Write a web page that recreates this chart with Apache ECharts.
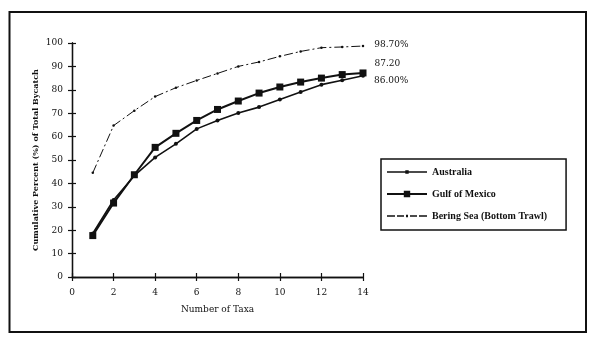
<!DOCTYPE html>
<html>
<head>
<meta charset="utf-8">
<script src="https://cdn.jsdelivr.net/npm/echarts@6/dist/echarts.min.js"></script>
<style>
  html, body { margin: 0; padding: 0; background: #ffffff; }
  #chart { width: 600px; height: 346px; }
</style>
</head>
<body>
<div id="chart"></div>
<script>
// Number of taxa (x) and cumulative percent of total bycatch per fishery
const taxa = [1, 2, 3, 4, 5, 6, 7, 8, 9, 10, 11, 12, 13, 14];
const australia = [18.6, 32.9, 43.3, 51.1, 56.9, 63.3, 66.9, 70.1, 72.6, 75.9, 79.1, 82.2, 84.1, 86.0];
const gulfOfMexico = [17.7, 31.6, 43.7, 55.4, 61.4, 66.9, 71.6, 75.2, 78.6, 81.2, 83.3, 85.0, 86.5, 87.2];
const beringSea = [44.5, 64.7, 71.1, 77.1, 80.9, 84.0, 87.0, 90.0, 91.9, 94.3, 96.4, 98.0, 98.3, 98.7];
const seriesNames = ['Australia', 'Gulf of Mexico', 'Bering Sea (Bottom Trawl)'];
const endSuffix = ['%', '', '%'];
const xTicks = [0, 2, 4, 6, 8, 10, 12, 14];
const yTicks = [0, 10, 20, 30, 40, 50, 60, 70, 80, 90, 100];

const FONT = '"DejaVu Serif", "Liberation Serif", serif';
const LEGEND_FONT = '"Liberation Serif", "DejaVu Serif", serif';
const chart = echarts.init(document.getElementById('chart'), null, { renderer: 'canvas' });

function pairs(vals) {
  return taxa.map((t, i) => [t, vals[i]]);
}

// Legend keys: a 40x8 line sample with the series marker in the middle.
// Tiny corner specks pin the path box to the full 40x8 key area.
const KEY_FRAME = 'M0,0 L0.01,0 L0,0.01 Z M40,8 L39.99,8 L40,7.99 Z ';
const legendIcons = [
  'path://' + KEY_FRAME + 'M0,3.2 L40,3.2 L40,4.8 L0,4.8 Z M18.3,2.3 L21.7,2.3 L21.7,5.7 L18.3,5.7 Z',
  'path://' + KEY_FRAME + 'M0,3.1 L40,3.1 L40,4.9 L0,4.9 Z M16.8,0.8 L23.2,0.8 L23.2,7.2 L16.8,7.2 Z',
  'path://' + KEY_FRAME + 'M0,3.3 L8,3.3 L8,4.7 L0,4.7 Z M10,3.3 L17,3.3 L17,4.7 L10,4.7 Z ' +
    'M19,2.8 L21,2.8 L21,5.2 L19,5.2 Z M23,3.3 L30,3.3 L30,4.7 L23,4.7 Z M32,3.3 L40,3.3 L40,4.7 L32,4.7 Z'
];

// Label only the final point with its value
function endLabel(idx, offset) {
  return {
    show: true,
    position: 'right',
    offset: offset,
    fontFamily: FONT,
    fontSize: 9,
    color: '#111',
    formatter: p => (p.dataIndex === taxa.length - 1 ? p.value[1].toFixed(2) + endSuffix[idx] : '')
  };
}

const axisBase = {
  type: 'value',
  axisLine: { show: true, lineStyle: { color: '#111', width: 1.3 } },
  splitLine: { show: false },
  axisLabel: { show: false },
  axisTick: { show: true, length: 4, lineStyle: { color: '#111', width: 1.2 } }
};

const option = {
  backgroundColor: '#ffffff',
  animation: false,
  grid: { left: 72, right: 237, top: 43, bottom: 69, containLabel: false },
  xAxis: [
    Object.assign({}, axisBase, {
      min: 0, max: 14, interval: 2,
      name: 'Number of Taxa',
      nameLocation: 'middle',
      nameGap: 28,
      nameTextStyle: { fontFamily: FONT, fontSize: 9, color: '#111' },
      axisLabel: {
        show: true, margin: 11, fontFamily: FONT, fontSize: 9, color: '#111',
        formatter: v => (xTicks.indexOf(v) >= 0 ? String(v) : '')
      }
    }),
    // second copy of the axis carries the inner half of the crossing ticks
    Object.assign({}, axisBase, {
      min: 0, max: 14, interval: 2, position: 'bottom',
      axisTick: { show: true, inside: true, length: 4, lineStyle: { color: '#111', width: 1.2 } }
    })
  ],
  yAxis: [
    Object.assign({}, axisBase, {
      min: 0, max: 100, interval: 10,
      name: 'Cumulative Percent (%) of Total Bycatch',
      nameLocation: 'middle',
      nameGap: 32,
      nameTextStyle: { fontFamily: FONT, fontSize: 8, fontWeight: 'bold', color: '#111' },
      axisLabel: {
        show: true, margin: 9, fontFamily: FONT, fontSize: 9, color: '#111',
        formatter: v => (yTicks.indexOf(v) >= 0 ? String(v) : '')
      }
    }),
    Object.assign({}, axisBase, {
      min: 0, max: 100, interval: 10, position: 'left',
      axisTick: { show: true, inside: true, length: 4, lineStyle: { color: '#111', width: 1.2 } }
    })
  ],
  legend: {
    orient: 'vertical',
    left: 381,
    top: 159,
    itemWidth: 40,
    itemHeight: 8,
    itemGap: 12,
    padding: [8, 19, 9, 6],
    borderColor: '#111',
    borderWidth: 1.5,
    backgroundColor: '#ffffff',
    textStyle: { fontFamily: LEGEND_FONT, fontSize: 10, fontWeight: 'bold', color: '#111' },
    data: seriesNames.map((n, i) => ({ name: n, icon: legendIcons[i] }))
  },
  series: [
    {
      name: seriesNames[0], type: 'line', data: pairs(australia),
      symbol: 'circle', symbolSize: 4, showAllSymbol: true,
      lineStyle: { color: '#111', width: 1.6 },
      itemStyle: { color: '#111' },
      label: endLabel(0, [4, 5]),
      z: 3
    },
    {
      name: seriesNames[1], type: 'line', data: pairs(gulfOfMexico),
      symbol: 'rect', symbolSize: 7, showAllSymbol: true,
      lineStyle: { color: '#111', width: 2 },
      itemStyle: { color: '#111' },
      label: endLabel(1, [3, -9]),
      z: 4
    },
    {
      name: seriesNames[2], type: 'line', data: pairs(beringSea),
      symbol: 'circle', symbolSize: 2.5, showAllSymbol: true,
      lineStyle: { color: '#111', width: 1, type: [9, 3, 2, 3] },
      itemStyle: { color: '#111' },
      label: endLabel(2, [5, -1]),
      z: 2
    }
  ],
  graphic: [
    {
      type: 'rect',
      shape: { x: 9.5, y: 12, width: 576.5, height: 320 },
      style: { fill: 'none', stroke: '#111', lineWidth: 2 },
      silent: true, z: -1
    }
  ]
};

chart.setOption(option);
</script>
</body>
</html>
